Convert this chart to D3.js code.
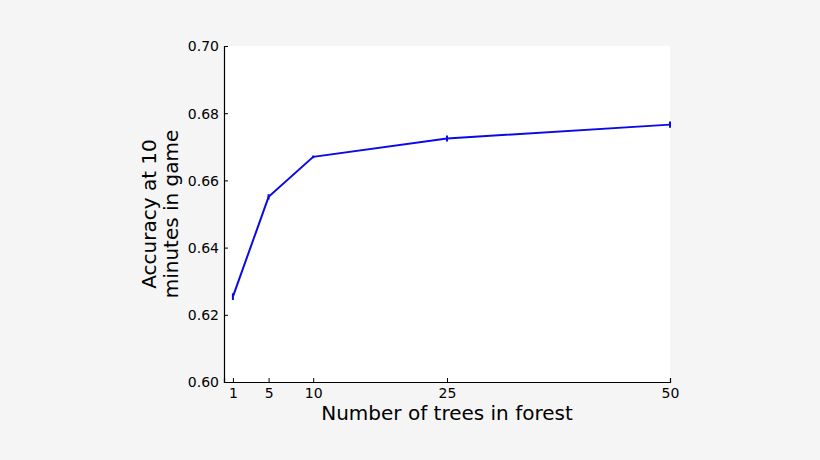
<!DOCTYPE html>
<html>
<head>
<meta charset="utf-8">
<script src="https://cdn.jsdelivr.net/npm/d3@7"></script>
<style>
  body { margin: 0; background: #f5f5f5; }
  svg { display: block; font-family: "DejaVu Sans", sans-serif; }
</style>
</head>
<body>
<svg id="chart" width="820" height="460"></svg>
<script>
// Forest size vs. accuracy
const trees = [1, 5, 10, 25, 50];
const accuracy = [0.6254, 0.6551, 0.6670, 0.6725, 0.6766];
const errors = [0.0010, 0.0008, 0.0004, 0.0009, 0.0009];
const xTicks = [1, 5, 10, 25, 50];
const yTicks = [0.60, 0.62, 0.64, 0.66, 0.68, 0.70];

function renderChart() {
  const margin = { top: 46, right: 150, bottom: 78, left: 224 };
  const width = 820 - margin.left - margin.right;
  const height = 460 - margin.top - margin.bottom;

  const svg = d3.select('#chart');
  const g = svg.append('g')
    .attr('transform', `translate(${margin.left},${margin.top})`);

  g.append('rect')
    .attr('width', width)
    .attr('height', height)
    .attr('fill', '#ffffff');

  const x = d3.scaleLinear().domain([0, 50]).range([0, width]);
  const y = d3.scaleLinear().domain([0.60, 0.70]).range([height, 0]);

  const xAxis = g.append('g')
    .attr('transform', `translate(0,${height})`)
    .call(d3.axisBottom(x).tickValues(xTicks).tickSize(-4).tickPadding(6).tickFormat(d3.format('d')));
  const yAxis = g.append('g')
    .call(d3.axisLeft(y).tickValues(yTicks).tickSize(-4).tickPadding(5).tickFormat(d3.format('.2f')));

  [xAxis, yAxis].forEach(a => {
    a.attr('font-size', null).attr('font-family', null);
    a.select('.domain').attr('stroke', '#000').attr('stroke-width', 1.2);
    a.selectAll('.tick line').attr('stroke', '#000');
    a.selectAll('.tick text')
      .attr('fill', '#000')
      .style('font-size', '14px')
      .style('font-family', '"DejaVu Sans", sans-serif');
  });
  yAxis.selectAll('.tick text').attr('dy', '0.35em');

  const line = d3.line()
    .x((d, i) => x(trees[i]))
    .y(d => y(d));

  g.append('path')
    .datum(accuracy)
    .attr('fill', 'none')
    .attr('stroke', '#0a0ae6')
    .attr('stroke-width', 2)
    .attr('d', line);

  g.selectAll('.err')
    .data(accuracy)
    .enter()
    .append('line')
    .attr('class', 'err')
    .attr('x1', (d, i) => x(trees[i]))
    .attr('x2', (d, i) => x(trees[i]))
    .attr('y1', (d, i) => y(d - errors[i]))
    .attr('y2', (d, i) => y(d + errors[i]))
    .attr('stroke', '#0a0ae6')
    .attr('stroke-width', 2);

  svg.append('text')
    .attr('x', margin.left + width / 2)
    .attr('y', 420)
    .attr('text-anchor', 'middle')
    .style('font-size', '20px')
    .attr('fill', '#000')
    .text('Number of trees in forest');

  const yl = svg.append('text')
    .attr('transform', `translate(156,${margin.top + height / 2}) rotate(-90)`)
    .attr('text-anchor', 'middle')
    .style('font-size', '20px')
    .attr('fill', '#000');
  yl.append('tspan').attr('x', 0).attr('dy', 0).text('Accuracy at 10');
  yl.append('tspan').attr('x', 0).attr('dy', '1.1em').text('minutes in game');
}

renderChart();
</script>
</body>
</html>
